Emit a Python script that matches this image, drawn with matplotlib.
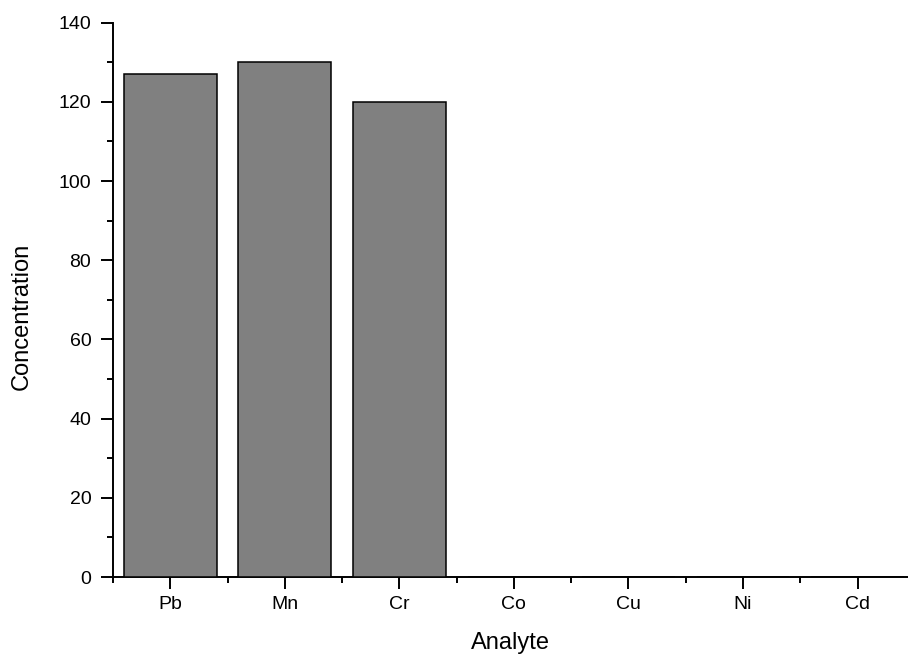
import numpy as np
import matplotlib
matplotlib.use("Agg")
import matplotlib.pyplot as plt
from matplotlib.ticker import MultipleLocator, FixedLocator

plt.rcParams['font.family'] = ['Liberation Sans', 'DejaVu Sans']

# analyte concentrations
analytes = ['Pb', 'Mn', 'Cr', 'Co', 'Cu', 'Ni', 'Cd']
concentration = [127, 130, 120, 0, 0, 0, 0]

x = np.arange(1, len(analytes) + 1)

fig = plt.figure(figsize=(9.08, 6.59), dpi=100)
ax = fig.add_axes([113 / 908, 1 - 577 / 659, 1 - 113 / 908, (577 - 22.7) / 659])

ax.bar(x, concentration, width=0.81, color='#808080', edgecolor='black', linewidth=1.1, zorder=3)

ax.set_xlim(0.5, 7.44)
ax.set_ylim(0, 140)

ax.set_xticks(x)
ax.set_xticklabels(analytes)
ax.xaxis.set_minor_locator(FixedLocator(np.arange(0.5, 8, 1.0)))
ax.yaxis.set_major_locator(MultipleLocator(20))
ax.yaxis.set_minor_locator(MultipleLocator(10))

for side in ['top', 'right']:
    ax.spines[side].set_visible(False)
for side in ['left', 'bottom']:
    ax.spines[side].set_linewidth(1.4)

ax.tick_params(which='major', direction='out', length=8.6, width=1.4, labelsize=14, pad=5)
ax.tick_params(which='minor', direction='out', length=4.5, width=1.4)
ax.tick_params(axis='y', which='major', pad=7)

ax.set_ylabel('Concentration', fontsize=17)
ax.set_xlabel('Analyte', fontsize=17)
ax.yaxis.set_label_coords(-0.1006, 0.471)
ax.xaxis.set_label_coords(0.5, -0.1)

fig.savefig('out.png', dpi=100)
